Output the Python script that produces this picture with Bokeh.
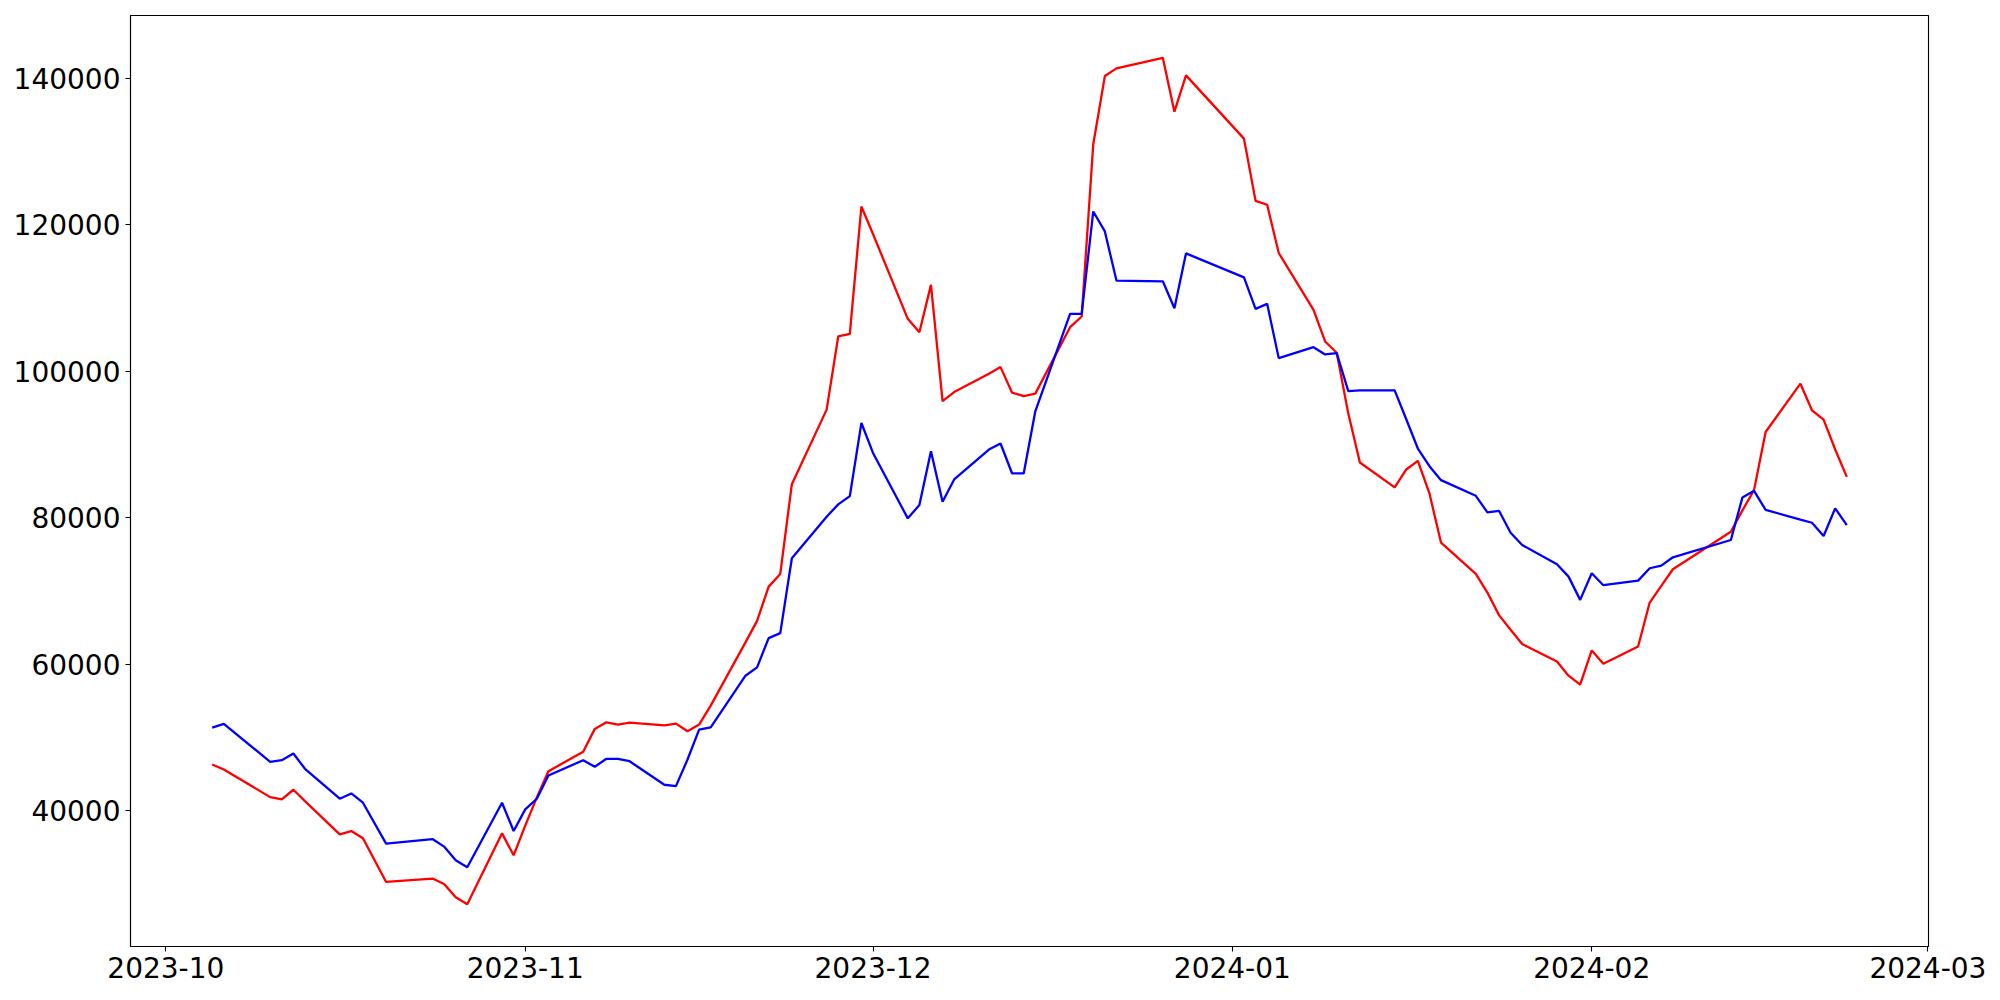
import pandas as pd
from bokeh.plotting import figure
from bokeh.models import Range1d, FixedTicker, DatetimeTickFormatter, BasicTickFormatter
from bokeh.embed import file_html
from bokeh.resources import INLINE

dates = [
    "2023-10-05", "2023-10-06", "2023-10-10", "2023-10-11", "2023-10-12", "2023-10-13",
    "2023-10-16", "2023-10-17", "2023-10-18", "2023-10-20", "2023-10-24", "2023-10-25",
    "2023-10-26", "2023-10-27", "2023-10-30", "2023-10-31",
    "2023-11-01", "2023-11-02", "2023-11-03", "2023-11-06", "2023-11-07", "2023-11-08",
    "2023-11-09", "2023-11-10", "2023-11-13", "2023-11-14", "2023-11-15", "2023-11-16",
    "2023-11-17", "2023-11-20", "2023-11-21", "2023-11-22", "2023-11-23", "2023-11-24",
    "2023-11-27", "2023-11-28", "2023-11-29", "2023-11-30",
    "2023-12-01", "2023-12-04", "2023-12-05", "2023-12-06", "2023-12-07", "2023-12-08",
    "2023-12-11", "2023-12-12", "2023-12-13", "2023-12-14", "2023-12-15", "2023-12-18",
    "2023-12-19", "2023-12-20", "2023-12-21", "2023-12-22", "2023-12-26", "2023-12-27",
    "2023-12-28",
    "2024-01-02", "2024-01-03", "2024-01-04", "2024-01-05", "2024-01-08", "2024-01-09",
    "2024-01-10", "2024-01-11", "2024-01-12", "2024-01-15", "2024-01-16", "2024-01-17",
    "2024-01-18", "2024-01-19", "2024-01-22", "2024-01-23", "2024-01-24", "2024-01-25",
    "2024-01-26", "2024-01-29", "2024-01-30", "2024-01-31",
    "2024-02-01", "2024-02-02", "2024-02-05", "2024-02-06", "2024-02-07", "2024-02-08",
    "2024-02-13", "2024-02-14", "2024-02-15", "2024-02-16", "2024-02-19", "2024-02-20",
    "2024-02-21", "2024-02-22", "2024-02-23",
]

red_values = [
    46294, 45613, 41839, 41526, 42847, 41290,
    36757, 37207, 36213, 30259, 30722, 29986,
    28174, 27221, 36894, 33896,
    37943, 41798, 45381, 48025, 51158, 52057,
    51744, 52016, 51649, 51880, 50831, 51744,
    54332, 62970, 65913, 70586, 72316, 84578,
    94755, 104741, 105109, 122493,
    118733, 107153, 105327, 111785, 95926, 97153,
    99660, 100559, 97071, 96607, 96935, 106008,
    107466, 130995, 140300, 141349, 142793, 135436,
    140395,
    131757, 123270, 122725, 116144, 108379, 104060,
    102520, 94210, 87534, 84128, 86580, 87752,
    83311, 76580, 72316, 69768, 66689, 64687,
    62739, 60368, 58420, 57193,
    61866, 60055, 62412, 68406, 70689, 72956,
    78079, 81000, 83760, 91703, 98297, 94659,
    93392, 89305, 85572,
]

blue_values = [
    51335, 51839, 46662, 46880, 47793, 45708,
    41621, 42343, 41076, 35490, 36117, 35082,
    33215, 32262, 41076, 37207,
    40163, 41621, 44796, 46880, 45981, 47071,
    47071, 46744, 43529, 43338, 46975, 51063,
    51376, 58420, 59550, 63556, 64237, 74455,
    80123, 81812, 82943, 92929,
    88842, 79905, 81717, 89074, 82166, 85218,
    89305, 90123, 86035, 86035, 94523, 107834,
    107834, 121812, 119087, 112371, 112275, 108597,
    116090,
    112820, 108515, 109196, 101785, 103283, 102289,
    102466, 97289, 97384, 97384, 93433, 89441,
    87025, 85123, 82984, 80722, 80940, 77943,
    76267, 73638, 71948, 68774,
    72411, 70777, 71403, 73093, 73447, 74591,
    76948, 82766, 83665, 81063, 79740, 79305,
    77493, 81267, 78992,
]

x_tick_labels = ["2023-10", "2023-11", "2023-12", "2024-01", "2024-02", "2024-03"]
y_ticks = [40000, 60000, 80000, 100000, 120000, 140000]

x = pd.to_datetime(dates)

# matplotlib-like 5% margins
span = x.max() - x.min()
x_start = (x.min() - 0.05 * span).to_pydatetime()
x_end = (x.max() + 0.05 * span).to_pydatetime()
all_vals = red_values + blue_values
vmin, vmax = min(all_vals), max(all_vals)
vspan = vmax - vmin
y_start = vmin - 0.05 * vspan
y_end = vmax + 0.05 * vspan

p = figure(
    width=1992, height=992,
    x_axis_type="datetime",
    output_backend="svg",
    toolbar_location=None,
    x_range=Range1d(x_start, x_end),
    y_range=Range1d(y_start, y_end),
    min_border_left=130, min_border_right=64,
    min_border_top=15, min_border_bottom=46,
)

p.line(x, red_values, line_color="#ff0000", line_width=2.3)
p.line(x, blue_values, line_color="#0000ff", line_width=2.3)

x_tick_ms = [pd.Timestamp(lbl + "-01").value // 10**6 for lbl in x_tick_labels]
p.xaxis.ticker = FixedTicker(ticks=x_tick_ms)
fmt = "%Y-%m"
p.xaxis.formatter = DatetimeTickFormatter(
    milliseconds=fmt, seconds=fmt, minsec=fmt, minutes=fmt, hourmin=fmt,
    hours=fmt, days=fmt, months=fmt, years=fmt,
)
p.yaxis.ticker = FixedTicker(ticks=y_ticks)
p.yaxis.formatter = BasicTickFormatter(use_scientific=False)

for ax in (p.xaxis[0], p.yaxis[0]):
    ax.major_label_text_font = "DejaVu Sans"
    ax.major_label_text_font_size = "28px"
    ax.major_label_text_color = "black"
    ax.major_tick_out = 5
    ax.major_tick_in = 0
    ax.major_tick_line_width = 1.1
    ax.major_tick_line_color = "black"
    ax.minor_tick_line_color = None
    ax.axis_line_color = "black"
    ax.axis_line_width = 1.1
    ax.major_label_standoff = 5

p.xgrid.visible = False
p.ygrid.visible = False
p.outline_line_color = "black"
p.outline_line_width = 1.1
p.outline_line_alpha = 1.0
p.background_fill_color = "white"
p.border_fill_color = "white"

open("out.html", "w").write(file_html(p, INLINE))
